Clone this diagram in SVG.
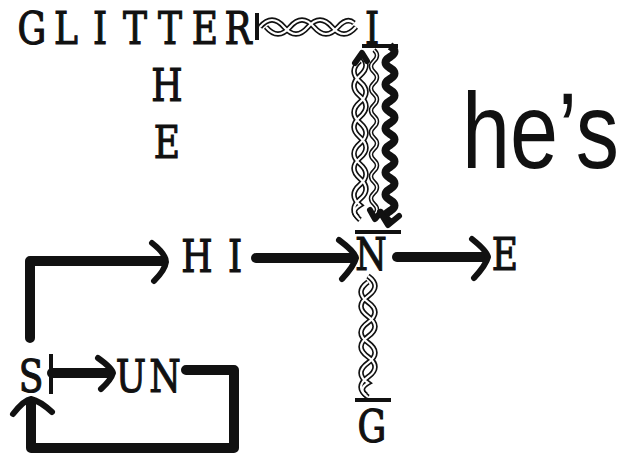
<svg xmlns="http://www.w3.org/2000/svg" xmlns:xlink="http://www.w3.org/1999/xlink" width="629" height="459" viewBox="0 0 629 459">
<style>
.t{font-family:"DejaVu Serif","Liberation Serif",serif;font-size:45px;fill:#111;stroke:#111;stroke-width:1.2;text-anchor:middle}
.c{fill:none;stroke:#111;stroke-width:10;stroke-linecap:round;stroke-linejoin:round}
.hd{fill:none;stroke:#111;stroke-width:6;stroke-linecap:round;stroke-linejoin:round}
.bar{fill:none;stroke:#111;stroke-width:4;stroke-linecap:butt}
.rb{fill:none;stroke:#111;stroke-width:5.5}
.rw{fill:none;stroke:#fff;stroke-width:2.2}
</style>
<defs>
<path id="hA" d="M260,27 q12,-14 24,0 t24,0 t24,0 t24,0"/>
<path id="hB" d="M266,27 q12,14 24,0 t24,0 t24,0 q9,-10 16,-4"/>
<path id="vA" d="M360,55 q12,10.3 0,20.6 t0,20.6 t0,20.6 t0,20.6 t0,20.6 t0,20.6 t0,20.6 t0,20.6"/>
<path id="vB" d="M360,61 q-12,10.3 0,20.6 t0,20.6 t0,20.6 t0,20.6 t0,20.6 t0,20.6 t0,20.6 q-10,6 -2,12"/>
<path id="mW" d="M374,50 q6,5.5 0,11 t0,11 t0,11 t0,11 t0,11 t0,11 t0,11 t0,11 t0,11 t0,11 t0,11 t0,11 t0,11 t0,11 t0,11"/>
<path id="lA" d="M368,276 q14,10.1 0,20.2 t0,20.2 t0,20.2 t0,20.2 t0,20.2 t0,20.2"/>
<path id="lB" d="M368,282 q-14,10.1 0,20.2 t0,20.2 t0,20.2 t0,20.2 t0,20.2 q-10,6 -2,12"/>
</defs>
<rect width="629" height="459" fill="#fff"/>
<g id="connectors">
<line class="bar" x1="257" y1="13" x2="257" y2="40" stroke-width="3"/>
<use xlink:href="#hA" class="rb"/><use xlink:href="#hB" class="rb"/>
<use xlink:href="#hA" class="rw"/><use xlink:href="#hB" class="rw"/>
<line class="bar" x1="362" y1="46" x2="398" y2="46"/>
<use xlink:href="#vA" class="rb"/><use xlink:href="#vB" class="rb"/>
<use xlink:href="#vA" class="rw"/><use xlink:href="#vB" class="rw"/>
<path class="hd" d="M355,63 L362,53 L367,61" stroke-width="3"/>
<use xlink:href="#mW" class="rb" style="stroke-width:4.5"/>
<use xlink:href="#mW" class="rw" style="stroke-width:1.6"/>
<path class="hd" d="M370,210 L375,219 L381,212" stroke-width="3"/>
<path d="M390,46 q9,5.5 0,11 t0,11 t0,11 t0,11 t0,11 t0,11 t0,11 t0,11 t0,11 t0,11 t0,11 t0,11 t0,11 t0,11 t0,11 t0,11" fill="none" stroke="#111" stroke-width="8"/>
<path class="hd" d="M380,212 L388,225 L399,216" stroke-width="5"/>
<line class="bar" x1="355" y1="232" x2="401" y2="232"/>
<use xlink:href="#lA" class="rb"/><use xlink:href="#lB" class="rb"/>
<use xlink:href="#lA" class="rw"/><use xlink:href="#lB" class="rw"/>
<line class="bar" x1="355" y1="400" x2="391" y2="400"/>
<path class="c" d="M30,338 L30,261 L162,261"/>
<path class="hd" d="M152,243 Q166,254 166,262 Q165,270 154,281"/>
<path class="c" d="M256,258 L352,258"/>
<path class="hd" d="M339,240 Q355,252 356,258 Q354,266 342,279"/>
<path class="c" d="M397,257 L484,257"/>
<path class="hd" d="M472,239 Q487,251 488,257 Q486,265 474,278"/>
<line class="bar" x1="51" y1="354" x2="51" y2="394" stroke-width="4"/>
<path class="c" d="M52,373 L108,373" stroke-width="9"/>
<path class="hd" d="M98,358 Q112,368 113,373 Q111,380 101,389"/>
<path class="c" d="M186,370 L234,370 L234,448 L31,448 L31,404"/>
<path class="hd" d="M13,414 Q24,400 31,399 Q40,401 52,412"/>
</g>
<g id="node-glitter"><text class="t" transform="scale(0.8,1)" y="44"><tspan x="40">G</tspan><tspan x="82.5">L</tspan><tspan x="125">I</tspan><tspan x="168.75">T</tspan><tspan x="212.5">T</tspan><tspan x="256.25">E</tspan><tspan x="297.5">R</tspan></text></g>
<g id="node-i"><text class="t" transform="scale(0.8,1)" x="465" y="44">I</text></g>
<g id="node-h"><text class="t" transform="scale(0.8,1)" x="208.75" y="101">H</text></g>
<g id="node-e1"><text class="t" transform="scale(0.8,1)" x="208.75" y="158">E</text></g>
<g id="node-hes"><text transform="translate(462,168) scale(0.8,1)" x="0" y="0" style="font-family:'Liberation Sans',Arial,sans-serif;font-size:108px;fill:#111">he’s</text></g>
<g id="node-hi"><text class="t" transform="scale(0.8,1)" y="272"><tspan x="246.25">H</tspan><tspan x="293.75">I</tspan></text></g>
<g id="node-n"><text class="t" transform="scale(0.8,1)" x="463.75" y="270">N</text></g>
<g id="node-e2"><text class="t" transform="scale(0.8,1)" x="631.25" y="270">E</text></g>
<g id="node-s"><text class="t" transform="scale(0.8,1)" x="38.75" y="392">S</text></g>
<g id="node-un"><text class="t" transform="scale(0.8,1)" y="392"><tspan x="163.75">U</tspan><tspan x="206.25">N</tspan></text></g>
<g id="node-g"><text class="t" transform="scale(0.8,1)" x="465" y="442">G</text></g>
</svg>
